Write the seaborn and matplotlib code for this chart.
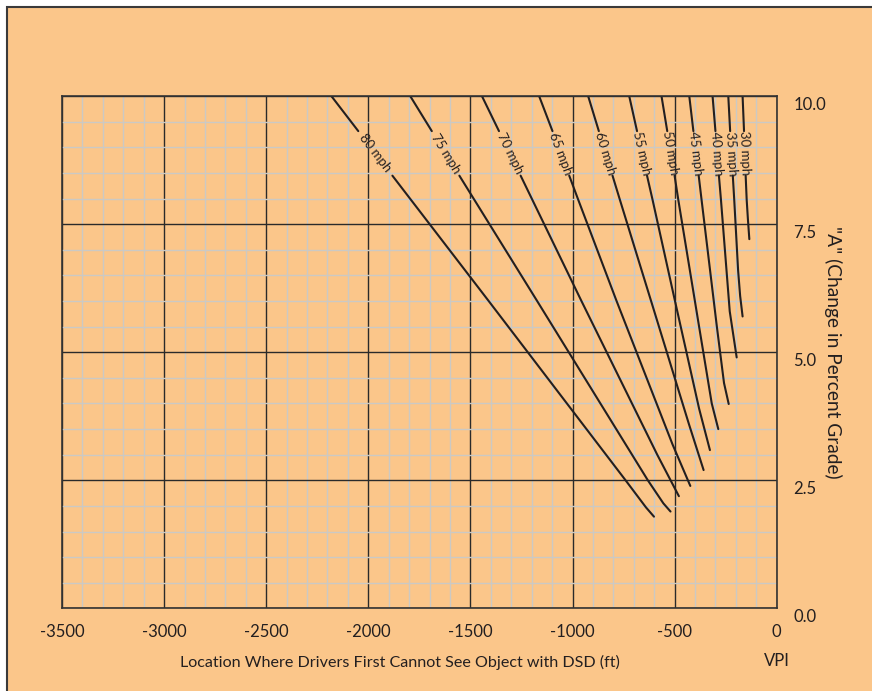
import numpy as np
import matplotlib
matplotlib.use("Agg")
import matplotlib.pyplot as plt
import matplotlib.transforms as mtransforms
from matplotlib.patches import Rectangle
from matplotlib.ticker import MultipleLocator, FuncFormatter
import seaborn as sns

BG = "#FBC68A"
INK = "#231f20"

speeds = [30, 35, 40, 45, 50, 55, 60, 65, 70, 75, 80]

# upper piece of each curve: from the top edge (A = 10) down to where the label starts
top_x = [-167, -237, -314, -428, -564, -722, -923, -1163, -1443, -1794, -2180]
gap_top_x = [-160, -228, -300, -408, -536, -684, -871, -1098, -1360, -1689, -2049]
top_y = 10.0
gap_top_y = 9.32

# lower piece of each curve: from where the label ends down to the end of the curve
lower_x = {
    30: [-152, -147, -141, -134],
    35: [-215, -208, -189, -179, -167],
    40: [-283, -273, -230, -196],
    45: [-382, -368, -293, -258, -235],
    50: [-500, -482, -380, -318, -286],
    55: [-635, -608, -498, -380, -327],
    60: [-804, -768, -615, -430, -358],
    65: [-1016, -972, -784, -510, -423],
    70: [-1254, -956, -585, -479],
    75: [-1554, -1176, -631, -555, -520],
    80: [-1882, -1414, -740, -640, -601],
}
lower_y = {
    30: [8.45, 7.98, 7.6, 7.21],
    35: [8.45, 7.98, 6.6, 6.1, 5.70],
    40: [8.45, 7.98, 5.8, 4.90],
    45: [8.45, 7.98, 5.5, 4.4, 3.99],
    50: [8.45, 7.98, 5.5, 4.0, 3.50],
    55: [8.45, 7.98, 6.0, 3.9, 3.09],
    60: [8.45, 7.98, 6.0, 3.6, 2.70],
    65: [8.45, 7.98, 6.0, 3.2, 2.39],
    70: [8.45, 6.0, 3.0, 2.19],
    75: [8.45, 6.02, 2.5, 2.05, 1.89],
    80: [8.45, 6.02, 2.5, 1.97, 1.79],
}

sns.set_theme(style="white")
plt.rcParams["font.family"] = ["Lato", "DejaVu Sans"]
plt.rcParams["axes.unicode_minus"] = False

W, H = 872, 691
fig = plt.figure(figsize=(W / 100, H / 100), dpi=100)
fig.patch.set_facecolor("white")
fig.patches.append(Rectangle((7 / W, -0.02), 1.0, 1 - 7 / H + 0.02,
                             transform=fig.transFigure, facecolor=BG,
                             edgecolor="#3a3a3a", lw=1.5, zorder=-10))

ax = fig.add_axes([62 / W, 1 - 608.3 / H, 714.7 / W, 512 / H])
ax.set_facecolor(BG)
ax.set_xlim(-3500, 0)
ax.set_ylim(0, 10)

for i, s in enumerate(speeds):
    sns.lineplot(x=[top_x[i], gap_top_x[i]], y=[top_y, gap_top_y], ax=ax,
                 color=INK, lw=1.5, sort=False, estimator=None)
    sns.lineplot(x=lower_x[s], y=lower_y[s], ax=ax,
                 color=INK, lw=1.5, sort=False, estimator=None)

ax.xaxis.set_major_locator(MultipleLocator(500))
ax.xaxis.set_minor_locator(MultipleLocator(100))
ax.yaxis.set_major_locator(MultipleLocator(2.5))
ax.yaxis.set_minor_locator(MultipleLocator(0.5))
ax.xaxis.set_major_formatter(FuncFormatter(lambda v, _: f"{v:.0f}"))
ax.yaxis.set_major_formatter(FuncFormatter(lambda v, _: f"{v:.1f}"))
ax.yaxis.tick_right()

ax.set_axisbelow(True)
ax.grid(which="minor", color="#cbc9c4", lw=1.0)
ax.grid(which="major", color="#2a2a2a", lw=1.0)
ax.tick_params(which="both", length=0, labelsize=12, colors=INK)
ax.tick_params(axis="x", pad=11)
ax.tick_params(axis="y", pad=12)
for sp in ax.spines.values():
    sp.set_visible(True)
    sp.set_color("#333333")
    sp.set_linewidth(1.2)

shift = mtransforms.ScaledTranslation(0, -5 / 72, fig.dpi_scale_trans)
for lab in ax.get_yticklabels():
    lab.set_transform(lab.get_transform() + shift)
ax.set_xlabel("")
ax.set_ylabel("")

# speed labels sit in the gap of each curve, turned along the line
for i, s in enumerate(speeds):
    x0, y0 = gap_top_x[i], gap_top_y
    x1, y1 = lower_x[s][0], lower_y[s][0]
    p0 = ax.transData.transform((x0, y0))
    p1 = ax.transData.transform((x1, y1))
    ang = np.degrees(np.arctan2(p1[1] - p0[1], p1[0] - p0[0]))
    ax.text((x0 + x1) / 2, (y0 + y1) / 2, f"{s} mph", rotation=ang,
            rotation_mode="anchor", ha="center", va="center",
            fontsize=9.5, color=INK)

fig.text(400 / W, 1 - 662 / H,
         "Location Where Drivers First Cannot See Object with DSD (ft)",
         ha="center", va="center", fontsize=11.6, color=INK)
fig.text(776.7 / W, 1 - 661 / H, "VPI", ha="center", va="center",
         fontsize=12, color=INK)
fig.text(833 / W, 1 - 352 / H, '"A" (Change in Percent Grade)',
         rotation=270, ha="center", va="center", fontsize=13.8, color=INK)

fig.savefig("out.png", dpi=100)
